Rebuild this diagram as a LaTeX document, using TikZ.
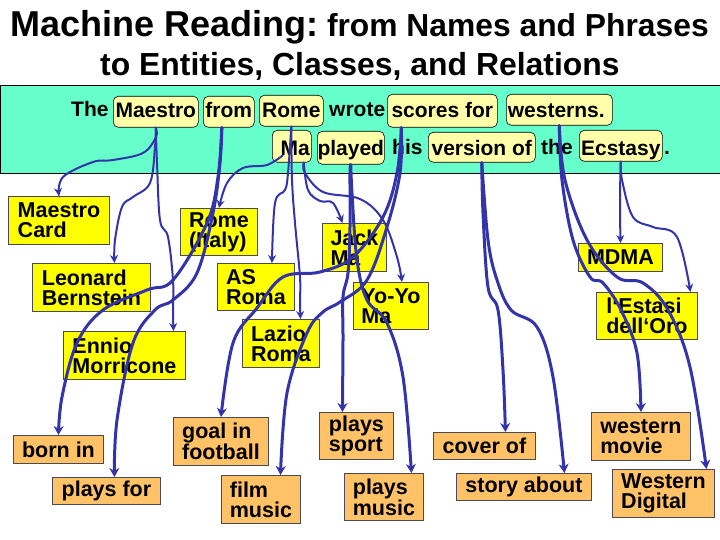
\documentclass[tikz,border=0pt]{standalone}
\usepackage{fontspec}
\setmainfont{Liberation Sans}[BoldFont={Liberation Sans Bold}]
\usetikzlibrary{arrows.meta}
\definecolor{panelgreen}{HTML}{66FFCC}
\definecolor{phrasefill}{HTML}{FFFFAA}
\definecolor{entityfill}{HTML}{FFFF00}
\definecolor{relfill}{HTML}{FFC266}
\definecolor{linkblue}{HTML}{3333AA}
\definecolor{boxline}{HTML}{4A4A55}
\tikzset{
	box/.style={draw=boxline,line width=0.9pt,anchor=north west,inner sep=0pt,align=left,
		font=\bfseries\fontsize{21.5}{20}\selectfont},
	entity/.style={box,fill=entityfill},
	relation/.style={box,fill=relfill},
	phrase/.style={draw=black,line width=0.6pt,fill=phrasefill,rounded corners=5pt,anchor=north west,
		inner sep=0pt,text depth=0pt,font=\bfseries\fontsize{21}{21}\selectfont},
	word/.style={anchor=base west,inner sep=0pt,font=\bfseries\fontsize{21}{21}\selectfont},
	thinlink/.style={draw=linkblue,line width=2pt,line cap=round,-{Stealth[length=8pt,width=8pt]}},
	thicklink/.style={draw=linkblue,line width=3pt,line cap=round,-{Stealth[length=9pt,width=10pt]}},
}
\begin{document}
\begin{tikzpicture}[x=1pt,y=-1pt]
	\useasboundingbox (0,0) rectangle (720,540);
	\fill[white] (0,0) rectangle (720,540);
	\node[anchor=base west,inner sep=0pt,font=\bfseries\fontsize{36}{36}\selectfont] (titleone) at (10,37)
		{Machine Reading:\fontsize{31.8}{36}\selectfont{} \hspace{-3pt}from Names and Phrases};
	\node[anchor=base west,inner sep=0pt,font=\bfseries\fontsize{31.9}{36}\selectfont] (titletwo) at (100,76)
		{to Entities, Classes, and Relations};
	\node[draw=black,line width=0.8pt,fill=panelgreen,anchor=north west,inner sep=0pt,
		minimum width=720pt,minimum height=88pt] (panel) at (0,85) {};
	\node[word] (the) at (71,117) {The};
	\node[word] (wrote) at (329,117) {wrote};
	\node[word] (his) at (392,155) {his};
	\node[word] (theb) at (541,155) {the};
	\node[word] (stop) at (664,155) {.};
	\foreach \N/\X/\Y/\W/\H/\B/\T in {maestro/113/96/85/31/11/Maestro, from/203/96/51/31/11/from, rome/259/95/64/31/13/Rome,
		scores/387/94/110/33/13/scores for, westerns/506/94/106/31/15/\hspace{-6pt}westerns.,
		ma/272/130/39/32/18/\hspace{7pt}Ma, played/317/131/67/33/15/played,
		version/428/132/107/30/16/version of, ecstasy/579/130/83/31/19/Ecstasy}
	{\node[phrase,text height=\B pt,minimum width=\W pt,minimum height=\H pt] (\N) at (\X,\Y) {\T};}
	\foreach \N/\X/\Y/\W/\H/\T in {card/8/196/101/48/Maestro\\Card, bernstein/32/263/118/48/Leonard\\Bernstein,
		morricone/63/331/122/48/Ennio\\Morricone, italy/180/208/77/47/Rome\\(Italy), asroma/217/263/77/47/AS\\Roma,
		lazio/242/319/77/48/Lazio\\Roma, jackma/322/223/64/48/Jack\\Ma, yoyoma/353/282/75/47/Yo-Yo\\Ma,
		mdma/578/243/84/28/MDMA, estasi/596/292/101/47/l‘Estasi\\dell‘Oro}
	{\node[entity,minimum width=\W pt,minimum height=\H pt] (\N) at (\X,\Y) {\T};}
	\foreach \N/\X/\Y/\W/\H/\T in {bornin/13/435/90/28/born in, playsfor/52/477/108/27/plays for,
		goal/173/417/95/48/goal in\\football, film/221/475/79/48/film\\music, sport/319/412/74/47/plays\\sport,
		music/344/473/79/47/plays\\music, cover/433/432/102/27/cover of, story/456/473/135/27/story about,
		movie/591/412/99/48/western\\movie, digital/612/469/102/48/Western\\Digital}
	{\node[relation,minimum width=\W pt,minimum height=\H pt] (\N) at (\X,\Y) {\T};}
	\draw[thinlink] plot[smooth,tension=0.6] coordinates {(maestro.south) (156,137) (143,153) (113,160) (93,162) (63,177) (card.north)};
	\draw[thinlink] plot[smooth,tension=0.6] coordinates {(maestro.south) (155,147) (150,183) (133,197) (122,207) (115,240) ([xshift=23pt]bernstein.north)};
	\draw[thinlink] plot[smooth,tension=0.6] coordinates {(maestro.south) (157,163) (160,220) (168,237) (173,280) (173,310) ([xshift=49pt]morricone.north)};
	\draw[thicklink] plot[smooth,tension=0.6] coordinates {([xshift=-7pt]from.south) (218,177) (207,223) (173,280) (147,290) (103,310) (77,343) (62,397) (bornin.north)};
	\draw[thicklink] plot[smooth,tension=0.6] coordinates {([xshift=-7pt]from.south) (220,163) (213,213) (197,273) (173,300) (155,310) (133,343) (117,420) ([xshift=8pt]playsfor.north)};
	\draw[thinlink] plot[smooth,tension=0.6] coordinates {([xshift=-9pt,yshift=-9pt]ma.center) (267,165) (243,168) (227,183) (italy.north)};
	\draw[thinlink] plot[smooth,tension=0.6] coordinates {(rome.south) (288,173) (285,190) (275,203) ([xshift=16pt]asroma.north)};
	\draw[thinlink] plot[smooth,tension=0.6] coordinates {(rome.south) (292,180) (295,223) (300,277) (300,300) ([xshift=19.5pt]lazio.north)};
	\draw[thinlink] plot[smooth,tension=0.6] coordinates {([xshift=12pt]ma.south) (308,190) (320,201) (333,203) ([xshift=-12pt]jackma.north)};
	\draw[thinlink] plot[smooth,tension=0.6] coordinates {([xshift=12pt]ma.south) (305,173) (323,192) (360,199) (383,220) (397,257) ([xshift=11pt]yoyoma.north)};
	\draw[thicklink] plot[smooth,tension=0.6] coordinates {([xshift=-41pt]scores.south) (397,173) (383,217) (353,257) (320,272) (283,277) (257,308) (233,343) (goal.north)};
	\draw[thicklink] plot[smooth,tension=0.6] coordinates {([xshift=-41pt]scores.south) (400,173) (387,227) (367,280) (340,302) (323,312) (307,333) (287,393) ([xshift=19.5pt]film.north)};
	\draw[thicklink] plot[smooth,tension=0.6] coordinates {(played.south) (350,173) (350,227) (348,273) (343,297) (343,340) ([xshift=-14pt]sport.north)};
	\draw[thicklink] plot[smooth,tension=0.6] coordinates {(played.south) (352,193) (357,260) (367,300) (387,323) (403,377) ([xshift=27.5pt]music.north)};
	\draw[thicklink] plot[smooth,tension=0.6] coordinates {(version.south) (483,213) (488,287) (498,310) (503,370) ([xshift=21pt]cover.north)};
	\draw[thicklink] plot[smooth,tension=0.6] coordinates {(version.south) (488,240) (497,280) (511,310) (537,327) (553,377) ([xshift=40.5pt]story.north)};
	\draw[thicklink] plot[smooth,tension=0.6] coordinates {(westerns.south) (562,180) (573,240) (590,277) (603,283) (621,310) (637,353) (movie.north)};
	\draw[thicklink] plot[smooth,tension=0.6] coordinates {(westerns.south) (565,180) (587,240) (617,277) (643,283) (668,310) (690,367) ([xshift=43pt]digital.north)};
	\draw[thinlink] plot[smooth,tension=0.6] coordinates {(ecstasy.south) (620,197) (mdma.north)};
	\draw[thinlink] plot[smooth,tension=0.6] coordinates {(ecstasy.south) (622,180) (633,217) (653,227) (677,237) ([xshift=43.5pt]estasi.north)};
\end{tikzpicture}
\end{document}
